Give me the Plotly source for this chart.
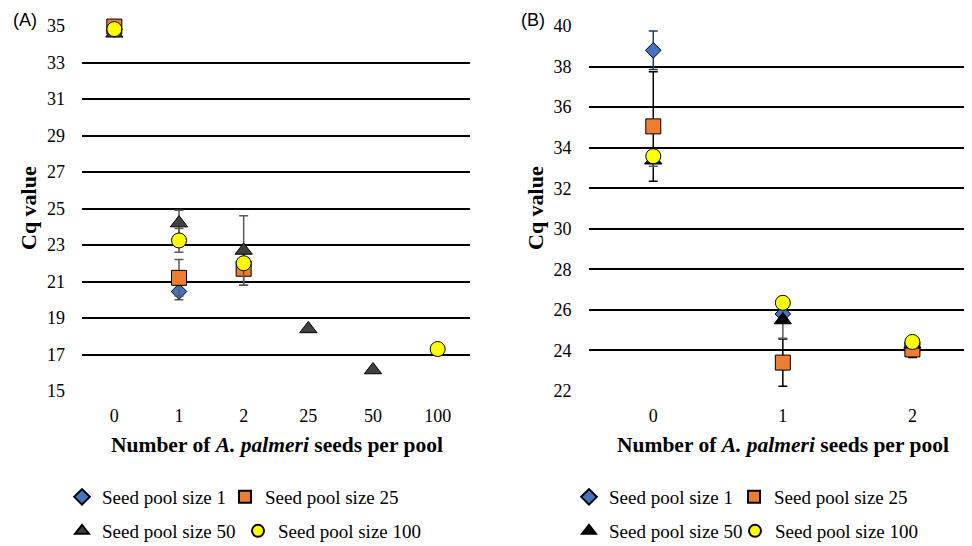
import plotly.graph_objects as go

# ---------------- data ----------------
cats_a = ["0", "1", "2", "25", "50", "100"]
a1_x = ["0", "1"];             a1_y = [34.8, 20.45];              a1_e = [0.0, 0.45]
a25_x = ["0", "1", "2"];       a25_y = [34.97, 21.2, 21.7];       a25_e = [0.0, 1.0, 0.9]
a50_x = ["0", "1", "2", "25", "50"]; a50_y = [34.6, 24.2, 22.7, 18.4, 16.15]; a50_e = [0.0, 0.7, 1.9, 0.0, 0.0]
a100_x = ["0", "1", "2", "100"]; a100_y = [34.83, 23.25, 22.0, 17.3]; a100_e = [0.0, 0.65, 0.2, 0.0]

cats_b = ["0", "1", "2"]
b1_x = ["0", "1"];        b1_y = [38.8, 25.8];          b1_e = [0.95, 0.0]
b25_x = ["0", "1", "2"];  b25_y = [35.05, 23.4, 24.05]; b25_e = [2.7, 1.16, 0.4]
b50_x = ["0", "1", "2"];  b50_y = [33.38, 25.5, 24.3];  b50_e = [0.3, 0.9, 0.2]
b100_x = ["0", "1", "2"]; b100_y = [33.58, 26.35, 24.42]; b100_e = [0.2, 0.1, 0.2]

ticks_a = [15, 17, 19, 21, 23, 25, 27, 29, 31, 33, 35]
ticks_b = [22, 24, 26, 28, 30, 32, 34, 36, 38, 40]

names = ["Seed pool size 1", "Seed pool size 25", "Seed pool size 50", "Seed pool size 100"]

SERIF = "Liberation Serif"
BLUE, ORANGE, YELLOW = "#4472C4", "#ED7D31", "#FFFF00"

fig = go.Figure()

def add(x, y, e, name, symbol, color, size, ecolor, xa, ya, leg):
    fig.add_trace(go.Scatter(
        x=x, y=y, mode="markers", name=name, xaxis=xa, yaxis=ya, legend=leg,
        cliponaxis=False,
        marker=dict(symbol=symbol, color=color, size=size, line=dict(color="black", width=1)),
        error_y=dict(type="data", array=e, visible=True, color=ecolor, thickness=1.5, width=4.5),
    ))

GRAY_E = "#595959"
add(a1_x, a1_y, a1_e, names[0], "diamond", BLUE, 12, GRAY_E, "x", "y", "legend")
add(a25_x, a25_y, a25_e, names[1], "square", ORANGE, 15, GRAY_E, "x", "y", "legend2")
add(a50_x, a50_y, a50_e, names[2], "triangle-up", "#404040", 15, GRAY_E, "x", "y", "legend3")
add(a100_x, a100_y, a100_e, names[3], "circle", YELLOW, 15, GRAY_E, "x", "y", "legend4")

add(b1_x, b1_y, b1_e, names[0], "diamond", BLUE, 12, "#1F3864", "x2", "y2", "legend5")
add(b25_x, b25_y, b25_e, names[1], "square", ORANGE, 15, "black", "x2", "y2", "legend6")
add(b50_x, b50_y, b50_e, names[2], "triangle-up", "black", 15, "#595959", "x2", "y2", "legend7")
add(b100_x, b100_y, b100_e, names[3], "circle", YELLOW, 15, "black", "x2", "y2", "legend8")

# The page body has an 8px margin, so the figure sits at (8, 8) in the window.
OFF = 8
W, H = 972 - OFF, 546 - OFF

def fx(px):
    return (px - OFF) / W

def fy(py):
    return 1 - (py - OFF) / H

ydom = [fy(391), fy(26)]
tickfont = dict(family=SERIF, size=18, color="black")

common_y = dict(showgrid=True, gridcolor="black", gridwidth=1.5, zeroline=False, showline=False,
                ticks="", tickfont=tickfont, ticklabelstandoff=16, domain=ydom)
common_x = dict(type="category", showgrid=False, zeroline=False, showline=False, ticks="",
                tickfont=tickfont, ticklabelstandoff=12)

legs = {}
legpos = [
    (85, 497), (248, 497), (85, 531), (261, 531),
    (592, 497), (757, 497), (592, 531), (758, 531),
]
for i, (px, py) in enumerate(legpos):
    key = "legend" if i == 0 else f"legend{i+1}"
    legs[key] = dict(x=fx(px - 23), y=fy(py), xanchor="left", yanchor="middle",
                     font=dict(family=SERIF, size=19, color="black"), bgcolor="rgba(0,0,0,0)",
                     itemsizing="constant", borderwidth=0)

xtitle = "<b>Number of <i>A. palmeri</i> seeds per pool</b>"
XT = dict(family=SERIF, size=21.5, color="black")
YT = dict(family=SERIF, size=22, color="black")
LAB = dict(family="Liberation Sans", size=18, color="black")

def ann(text, px, py, font, angle=0, yanchor="middle"):
    return dict(text=text, x=fx(px), y=fy(py), xref="paper", yref="paper", showarrow=False,
                xanchor="center", yanchor=yanchor, textangle=angle, font=font)

annotations = [
    ann(xtitle, 276.5, 445, XT),
    ann(xtitle, 783, 445, XT),
    ann("<b>Cq value</b>", 28, 208, YT, -90),
    ann("<b>Cq value</b>", 535, 208, YT, -90),
    ann("(A)", 25, 8.5, LAB, yanchor="top"),
    ann("(B)", 533, 8.5, LAB, yanchor="top"),
]

fig.update_layout(
    width=W, height=H, margin=dict(l=0, r=0, t=0, b=0, autoexpand=False),
    paper_bgcolor="white", plot_bgcolor="white",
    showlegend=True,
    xaxis=dict(common_x, domain=[fx(82), fx(470)], categoryorder="array", categoryarray=cats_a,
               range=[-0.5, 5.5]),
    yaxis=dict(common_y, range=[15, 35], tickvals=ticks_a),
    xaxis2=dict(common_x, domain=[fx(588.5), 1.0], categoryorder="array", categoryarray=cats_b,
                range=[-0.5, 2.46], anchor="y2"),
    yaxis2=dict(common_y, range=[22, 40], tickvals=ticks_b, anchor="x2"),
    annotations=annotations,
    **legs,
)

fig.write_html("out.html")
